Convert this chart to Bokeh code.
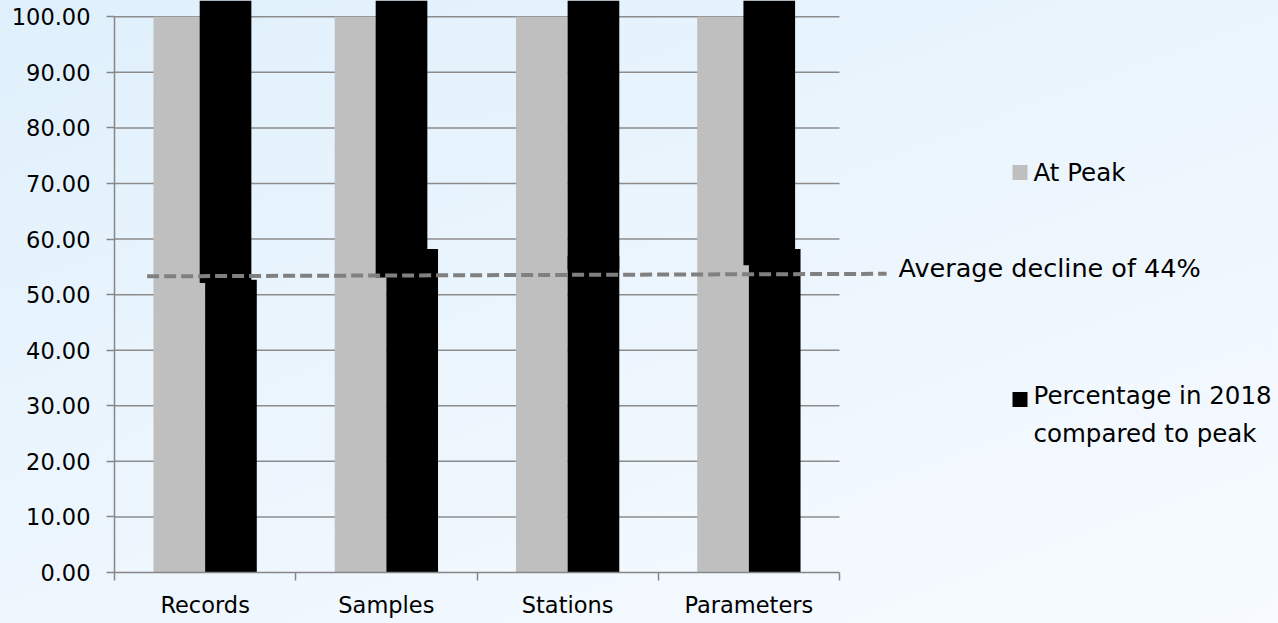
from bokeh.plotting import figure
from bokeh.models import Range1d, FixedTicker, NumeralTickFormatter
from bokeh.core.properties import value
from bokeh.embed import file_html
from bokeh.resources import INLINE

# ---------------- data ----------------
categories = ["Records", "Samples", "Stations", "Parameters"]
at_peak = [100.0, 100.0, 100.0, 100.0]
pct_2018 = [52.7, 58.2, 57.0, 58.2]
# black cover shapes seen in the picture: start level, running up off the top
cover_bottom = [52.1, 53.1, 54.5, 55.3]
avg_line_x = [0.18, 4.26]
avg_line_y = [53.3, 53.75]
y_ticks = [0, 10, 20, 30, 40, 50, 60, 70, 80, 90, 100]
legend_peak = "At Peak"
legend_2018 = "Percentage in 2018\ncompared to peak"
avg_label = "Average decline of 44%"

# ---------------- layout ----------------
OFF = 0
W, H = 1278 - 2 * OFF, 623 - 2 * OFF
X0, PXU = 114.0, 181.25      # screen x of category 0 edge, px per category
Y0, PYU = 572.0, 5.557       # screen y of value 0, px per unit

def dx(sx):
    return (sx - X0) / PXU

def dy(sy):
    return (Y0 - sy) / PYU

FONT = "DejaVu Sans"
BAR_W = 0.285
cover_shift = [-0.03, -0.059, 0.0, -0.03]

p = figure(width=W, height=H, output_backend="svg", toolbar_location=None,
           x_range=Range1d(dx(OFF), dx(OFF + W)),
           y_range=Range1d(dy(OFF + H), dy(OFF)),
           min_border=0, outline_line_color=None)
p.background_fill_alpha = 0
p.border_fill_alpha = 0
p.styles = {"background": "linear-gradient(160deg, #dff0fc 0%, #ebf5fd 45%, #f7fbff 100%)"}
p.xgrid.visible = False
p.ygrid.visible = False

# gridlines (only across the category area)
p.segment(x0=[0] * (len(y_ticks) - 1), x1=[len(categories)] * (len(y_ticks) - 1),
          y0=y_ticks[1:], y1=y_ticks[1:], line_color="#8c8c8c", line_width=1.5)

centers = [i + 0.5 for i in range(len(categories))]
p.vbar(x=[c - BAR_W / 2 for c in centers], top=at_peak, width=BAR_W,
       fill_color="#bfbfbf", line_color=None)
p.vbar(x=[c + BAR_W / 2 for c in centers], top=pct_2018, width=BAR_W,
       fill_color="#000000", line_color=None)
top_end = dy(OFF) + 5
p.vbar(x=[c + BAR_W / 2 + s for c, s in zip(centers, cover_shift)],
       bottom=cover_bottom, top=[top_end] * len(categories), width=BAR_W,
       fill_color="#000000", line_color=None)

# average line
p.line(avg_line_x, avg_line_y, line_color="#808080", line_width=4, line_dash="12 5")
p.text(x=[dx(898)], y=[dy(267)], text=[avg_label], text_font=value(FONT),
       text_font_size="25.5px", text_baseline="middle", text_align="left",
       text_color="#000000")

# legend
p.scatter(x=[dx(1019.5), dx(1019.5)], y=[dy(172), dy(399)], marker="square", size=15,
          fill_color=["#bfbfbf", "#000000"], line_color=None)
p.text(x=[dx(1033), dx(1033)], y=[dy(172), dy(414)], text=[legend_peak, legend_2018],
       text_font=value(FONT), text_font_size="24.5px", text_baseline="middle",
       text_align="left", text_color="#000000", text_line_height=1.28)

# axes
ya = p.yaxis[0]
ya.fixed_location = 0
ya.bounds = (0, 100)
ya.ticker = FixedTicker(ticks=y_ticks)
ya.formatter = NumeralTickFormatter(format="0.00")
ya.axis_line_color = "#868686"
ya.axis_line_width = 1.5
ya.major_tick_line_color = "#868686"
ya.major_tick_line_width = 1.5
ya.major_tick_out = 8
ya.major_tick_in = 0
ya.minor_tick_line_color = None
ya.major_label_standoff = 16
ya.major_label_text_font = FONT
ya.major_label_text_font_size = "22.5px"
ya.major_label_text_color = "#000000"

xa = p.xaxis[0]
xa.fixed_location = 0
xa.bounds = (0, len(categories))
xa.ticker = FixedTicker(ticks=centers, minor_ticks=list(range(len(categories) + 1)))
xa.major_label_overrides = {c: n for c, n in zip(centers, categories)}
xa.axis_line_color = "#868686"
xa.axis_line_width = 1.5
xa.major_tick_line_color = None
xa.major_tick_out = 0
xa.major_tick_in = 0
xa.minor_tick_line_color = "#868686"
xa.minor_tick_line_width = 1.5
xa.minor_tick_out = 8
xa.minor_tick_in = 0
xa.major_label_standoff = 11
xa.major_label_text_font = FONT
xa.major_label_text_font_size = "22.5px"
xa.major_label_text_color = "#000000"

open("out.html", "w").write(file_html(p, INLINE))
